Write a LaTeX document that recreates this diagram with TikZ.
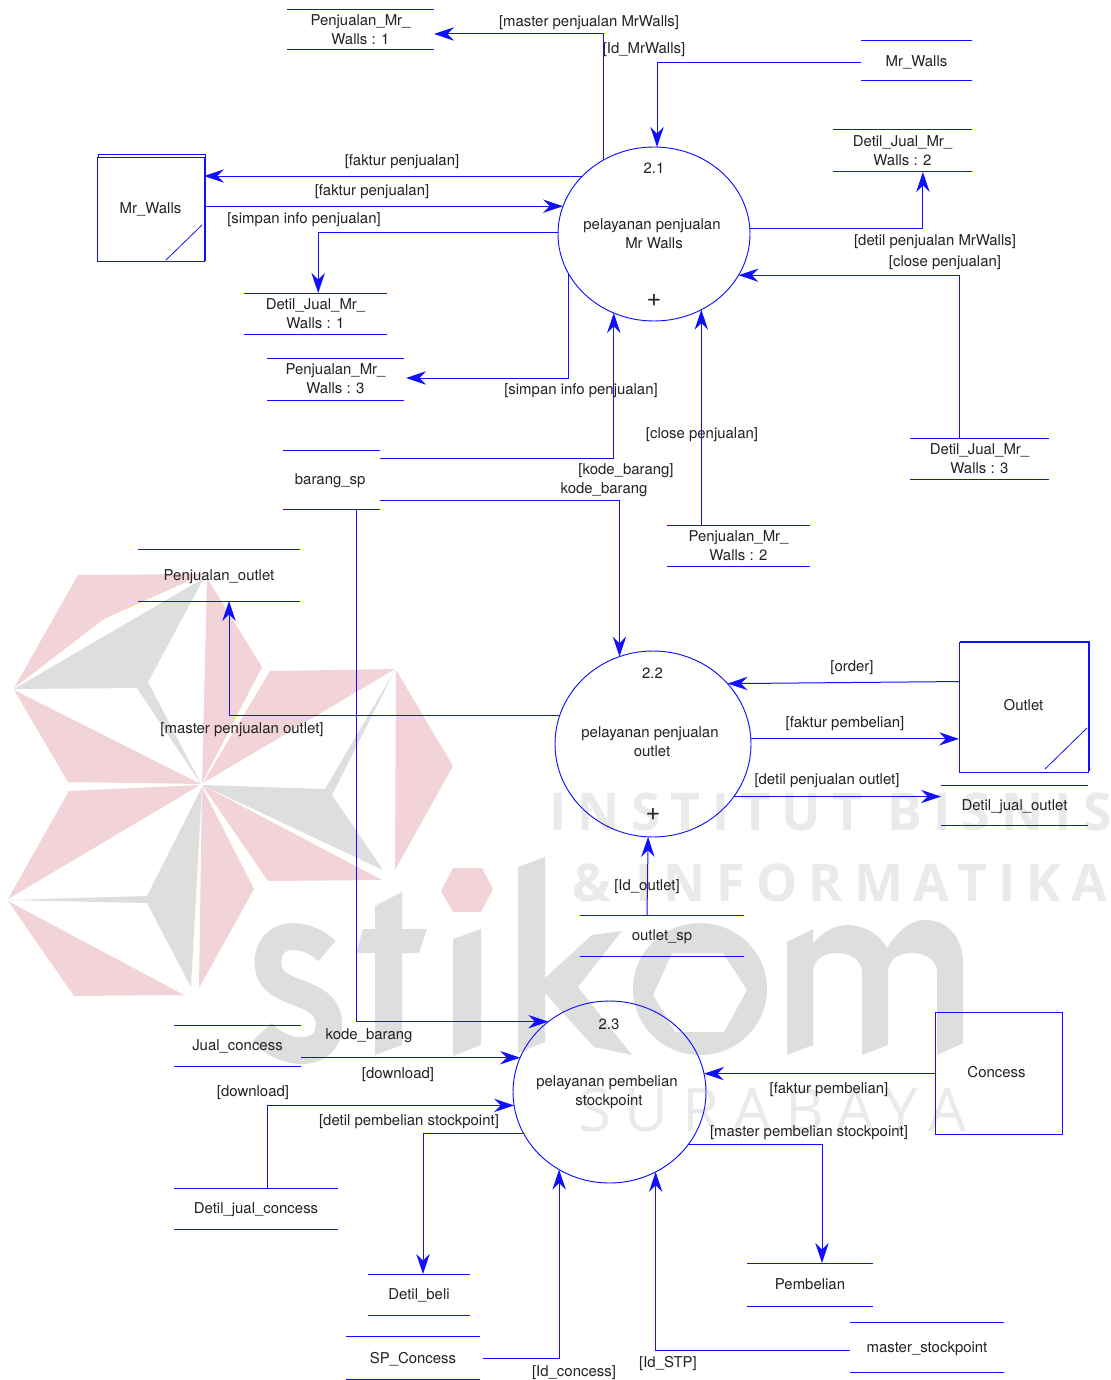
\documentclass[tikz,border=0pt]{standalone}
\usepackage{fontspec}
\setmainfont{TeX Gyre Heros}
\newfontfamily\wmbold[LetterSpace=21.5]{Open Sans Bold}
\newfontfamily\wmboldb[LetterSpace=21]{Open Sans Bold}
\newfontfamily\wmreg[LetterSpace=23]{Open Sans}
\usetikzlibrary{arrows.meta,shapes.geometric}
\definecolor{wmpink}{HTML}{F2D4D8}
\definecolor{wmgrey}{HTML}{DEDEDE}
\definecolor{wmtext}{HTML}{EAEAEA}
\definecolor{lbltext}{HTML}{222222}
\definecolor{dfdblue}{HTML}{1010FF}
\tikzset{
  x=0.75pt,y=-0.75pt,
  pk/.style={fill=wmpink,draw=none},
  gy/.style={fill=wmgrey,draw=none},
  wl/.style={text=wmtext,inner sep=0pt,anchor=base west},
  lbl/.style={text=lbltext,inner sep=0pt,align=center,yshift=-1.2pt,font=\fontsize{11.2}{14.25}\selectfont},
  plus/.style={text=lbltext,inner sep=0pt,font=\fontsize{19}{19}\selectfont},
  rule/.style={draw=dfdblue,line width=0.75pt},
  flow/.style={rule,-{Stealth[length=15pt,width=10pt,inset=5pt]}},
  process/.style={ellipse,draw=dfdblue,line width=0.7pt,inner sep=0pt,outer sep=0pt},
  entity/.style={rectangle,draw=dfdblue,line width=0.65pt,inner sep=0pt,outer sep=0pt,text=lbltext,font=\fontsize{11.2}{14.25}\selectfont},
  datastore/.style={rectangle,inner sep=0pt,outer sep=0pt,align=center,text=lbltext,font=\fontsize{11.2}{14.25}\selectfont},
}
\newcommand\storenode[6]{%
  \node[datastore,minimum width={(#3-#2)*0.75pt},minimum height={(#5-#4)*0.75pt}] (#1) at ({(#2+#3)/2},{(#4+#5)/2}) {\raisebox{-1.2pt}[\height][\depth]{\begin{tabular}{@{}c@{}}#6\end{tabular}}};
  \draw[rule] (#1.north west) -- (#1.north east);
  \draw[rule] (#1.south west) -- (#1.south east);
}
\newcommand\entitynode[6]{%
  \node[entity,minimum width={(#3-#2)*0.75pt},minimum height={(#5-#4)*0.75pt}] (#1) at ({(#2+#3)/2},{(#4+#5)/2}) {#6};
}
\setlength{\tabcolsep}{0pt}
\renewcommand{\arraystretch}{1}
\begin{document}
\begin{tikzpicture}
\useasboundingbox (0,0) rectangle (1110,1380);
\fill[white] (0,0) rectangle (1110,1380);
\begin{scope}
\clip (0,0) rectangle (1110,1380);
% star
\fill[pk] (78,575) -- (204,574) -- (104,619) -- (14,688) -- cycle;
\fill[gy] (14,689) -- (204,578) -- (148,682) -- (201,784) -- (137,688) -- cycle;
\fill[pk] (14,690) -- (201,784) -- (68,782) -- cycle;
\fill[pk] (207,578) -- (262,667) -- (202,783) -- cycle;
\fill[pk] (270,671) -- (395,669) -- (203,783) -- cycle;
\fill[gy] (202,785) -- (325,789) -- (395,670) -- (332,795) -- (383,870) -- cycle;
\fill[pk] (396,670) -- (453,766) -- (395,870) -- cycle;
\fill[pk] (202,785) -- (382,880) -- (268,881) -- cycle;
\fill[pk] (200,785) -- (69,791) -- (8,899) -- cycle;
\fill[gy] (8,900) -- (147,896) -- (202,787) -- (191,987) -- (147,903) -- cycle;
\fill[pk] (8,901) -- (184,995) -- (74,996) -- cycle;
\fill[pk] (202,787) -- (254,889) -- (199,988) -- cycle;
% stikom
\draw[wmgrey,line width=20pt] (327,951) .. controls (305,930) and (268,930) .. (268,963) .. controls (268,1000) and (329,985) .. (329,1025) .. controls (329,1058) and (285,1058) .. (262,1032);
\fill[gy] (375,906) -- (402,892) -- (402,929) -- (427,929) -- (419,953) -- (402,953) -- (402,1045) -- (375,1055) -- (375,953) -- (356,953) -- (363,929) -- (375,929) -- cycle;
\fill[pk] (453,868) -- (482,868) -- (493,889) -- (481,912) -- (453,912) -- (441,891) -- cycle;
\fill[gy] (453,939) -- (481,929) -- (481,1045) -- (453,1056) -- cycle;
\fill[gy] (518,867) -- (545,857) -- (545,978) -- (592,935) -- (622,931) -- (578,987) -- (632,1055) -- (594,1047) -- (545,993) -- (545,1042) -- (518,1053) -- cycle;
\fill[gy,even odd rule] (700,989) ellipse [x radius=67,y radius=66] (672,953) -- (723,953) -- (747,990) -- (724,1032) -- (675,1032) -- (653,995) -- cycle;
\fill[gy] (787,942) -- (813,929) -- (813,943) .. controls (825,930) and (837,925) .. (847,925) .. controls (865,925) and (880,935) .. (887,948) .. controls (897,932) and (910,920) .. (925,920) .. controls (950,920) and (963,940) .. (963,963) -- (963,1043) -- (937,1055) -- (937,972) .. controls (937,960) and (925,953) .. (912,953) .. controls (898,953) and (888,960) .. (888,972) -- (888,1045) -- (862,1055) -- (862,972) .. controls (862,960) and (850,953) .. (837,953) .. controls (823,953) and (813,960) .. (813,972) -- (813,1045) -- (787,1055) -- cycle;
% institute lines
\node[wl,font=\wmbold\fontsize{39}{39}\selectfont] (wm1) at (549,830) {INSTITUT BISNIS};
\node[wl,font=\wmboldb\fontsize{39}{39}\selectfont] (wm2) at (572,901) {\& INFORMATIKA};
\node[wl,font=\wmreg\fontsize{45}{45}\selectfont] (wm3) at (578,1131) {SURABAYA};
\end{scope}

% processes
\node[process,minimum width=144pt,minimum height=130.5pt] (p1) at (654,234) {};
\node[process,minimum width=147pt,minimum height=139.5pt] (p2) at (653,744) {};
\node[process,minimum width=144.75pt,minimum height=136.5pt] (p3) at (609.5,1092) {};
\node[lbl] (p1n) at (654,167) {2.1};
\node[lbl] (p1t) at (652,232.5) {pelayanan penjualan\\\hspace*{3pt}Mr Walls};
\node[plus] (p1p) at (654,300) {+};
\node[lbl] (p2n) at (652.5,672) {2.2};
\node[lbl] (p2t) at (650,740.5) {pelayanan penjualan\\\hspace*{3pt}outlet};
\node[plus] (p2p) at (653,814) {+};
\node[lbl] (p3n) at (609,1023) {2.3};
\node[lbl] (p3t) at (607,1091) {pelayanan pembelian\\\hspace*{3pt}stockpoint};

% external entities
\draw[rule,line width=0.65pt] (98,157) -- (98,154) -- (205,154) -- (205,261);
\entitynode{mwe}{97}{204}{157}{261}{\raisebox{-0.8pt}{Mr\_Walls}}
\draw[dfdblue,line width=0.6pt] (166,260) -- (202,225);
\draw[rule,line width=0.65pt] (960,642) -- (960,641) -- (1089,641) -- (1089,771);
\entitynode{ol}{959}{1088}{642}{772}{\raisebox{3pt}{Outlet}}
\draw[dfdblue,line width=0.6pt] (1045,769) -- (1087,728);
\entitynode{cc}{935}{1062}{1012}{1134}{\raisebox{1.5pt}{\hspace*{-3pt}Concess}}

% data stores
\storenode{pj1}{287}{434}{10}{50}{Penjualan\_Mr\_\\Walls : 1}
\storenode{mws}{861}{972}{41}{81}{Mr\_Walls}
\storenode{dj2}{833}{972}{130}{172}{Detil\_Jual\_Mr\_\\Walls : 2}
\storenode{dj1}{244}{387}{293}{334}{Detil\_Jual\_Mr\_\\Walls : 1}
\storenode{pj3}{267}{404}{358}{400}{Penjualan\_Mr\_\\Walls : 3}
\storenode{bs}{283}{380}{450}{509}{\hspace*{-2pt}barang\_sp}
\storenode{dj3}{910}{1049}{438}{479}{Detil\_Jual\_Mr\_\\Walls : 3}
\storenode{pj2}{667}{810}{525}{566}{Penjualan\_Mr\_\\Walls : 2}
\storenode{po}{138}{300}{549}{601}{Penjualan\_outlet}
\storenode{djo}{941}{1088}{785}{825}{Detil\_jual\_outlet}
\storenode{os}{580}{744}{915}{956}{outlet\_sp}
\storenode{jc}{174}{301}{1025}{1066}{Jual\_concess}
\storenode{djc}{174}{338}{1188}{1229}{Detil\_jual\_concess}
\storenode{db}{368}{470}{1274}{1315}{Detil\_beli}
\storenode{sp}{346}{480}{1336}{1379.5}{SP\_Concess}
\storenode{pb}{747}{873}{1263}{1306}{Pembelian}
\storenode{ms}{850}{1004}{1322}{1372}{master\_stockpoint}

% connectors
\draw[flow] (p1.124.7) |- ([yshift=-3pt]pj1.east);
\draw[flow] ([yshift=-1.5pt]mws.west) -| (p1.88);
\draw[flow] (p1.141.8) -- (mwe.east |- p1.141.8);
\draw[flow] (mwe.east |- p1.163.5) -- (p1.163.5);
\draw[flow] (p1.179.4) -| ([xshift=2pt]dj1.north);
\draw[flow] (p1.205.4) |- ([xshift=1.5pt,yshift=0.75pt]pj3.east);
\draw[flow] (p1.3.6) -| ([xshift=15.3pt]dj2.south);
\draw[flow] ([xshift=-15.3pt]dj3.north) |- (p1.334.2);
\draw[flow] (p1.302 |- pj2.north) -- (p1.302);
\draw[flow] ([yshift=16.1pt]bs.east) -| (p1.243.7);
\draw[flow] ([yshift=-16.1pt]bs.east) -| (p2.111.9);
\draw[flow] ([xshift=19.1pt]bs.south) |- (p3.131.9);
\draw[flow] (p2.163.3) -| ([xshift=7.5pt]po.south);
\draw[flow] ([yshift=19.1pt]ol.west) -- (p2.39.5);
\draw[flow] (p2.3.5) -- (ol.west |- p2.3.5);
\draw[flow] (p2.327.4) -- (djo.west |- p2.327.4);
\draw[flow] ([xshift=-11.25pt]os.north) -- (p2.267.5);
\draw[flow] (jc.east |- p3.159.7) -- (p3.159.7);
\draw[flow] ([xshift=8.25pt]djc.north) |- (p3.188.4);
\draw[flow] (p3.206.1) -| ([xshift=3pt]db.north);
\draw[flow] (p3.326.4) -| ([xshift=9pt]pb.north);
\draw[flow] (cc.west |- p3.11.4) -- (p3.11.4);
\draw[flow] ([xshift=2.25pt,yshift=-0.75pt]sp.east) -| (p3.237.6);
\draw[flow] ([yshift=-2.25pt]ms.west) -| (p3.300.3);

% labels
\node[lbl] (l1) at (589,21) {[master penjualan MrWalls]};
\node[lbl] (l2) at (644,48) {[Id\_MrWalls]};
\node[lbl] (l3) at (402,160) {[faktur penjualan]};
\node[lbl] (l4) at (372,190) {[faktur penjualan]};
\node[lbl] (l5) at (304,218) {[simpan info penjualan]};
\node[lbl] (l6) at (581,389) {[simpan info penjualan]};
\node[lbl] (l7) at (935,240) {[detil penjualan MrWalls]};
\node[lbl] (l8) at (945,261) {[close penjualan]};
\node[lbl] (l9) at (702,433) {[close penjualan]};
\node[lbl] (l10) at (626,469) {[kode\_barang]};
\node[lbl] (l11) at (604,488) {kode\_barang};
\node[lbl] (l12) at (369,1034) {kode\_barang};
\node[lbl] (l13) at (242,728) {[master penjualan outlet]};
\node[lbl] (l14) at (852,666) {[order]};
\node[lbl] (l15) at (845,722) {[faktur pembelian]};
\node[lbl] (l16) at (827,779) {[detil penjualan outlet]};
\node[lbl] (l17) at (647,885) {[Id\_outlet]};
\node[lbl] (l18) at (398,1073) {[download]};
\node[lbl] (l19) at (253,1091) {[download]};
\node[lbl] (l20) at (409,1120) {[detil pembelian stockpoint]};
\node[lbl] (l21) at (809,1131) {[master pembelian stockpoint]};
\node[lbl] (l22) at (829,1088) {[faktur pembelian]};
\node[lbl] (l23) at (574,1371) {[Id\_concess]};
\node[lbl] (l24) at (668,1362) {[Id\_STP]};
\end{tikzpicture}
\end{document}
